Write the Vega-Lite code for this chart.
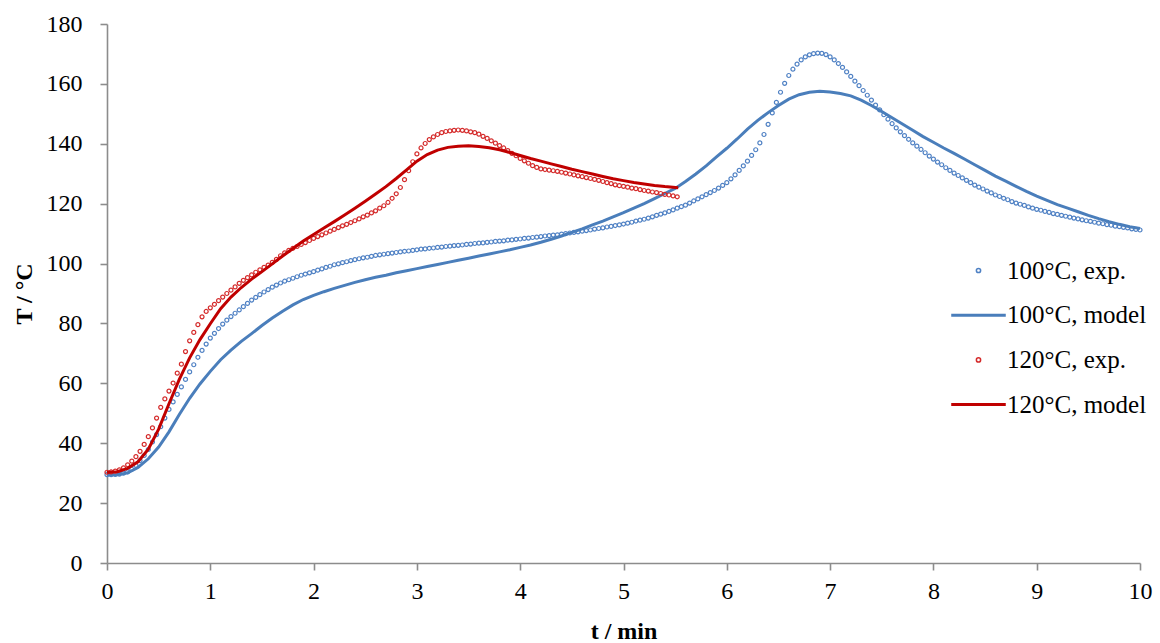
{
"$schema": "https://vega.github.io/schema/vega-lite/v6.json",
"width": 1033, "height": 539,
"autosize": {"type": "none"},
"padding": {"left": 107, "top": 24, "right": 20, "bottom": 80},
"background": "white",
"config": {"view": {"stroke": null},
 "axis": {"grid": false, "domainColor": "#8c8c8c", "domainWidth": 1.6, "tickColor": "#8c8c8c", "tickWidth": 1.6, "tickSize": 7,
  "labelFont": "Liberation Serif", "labelFontSize": 24, "labelColor": "black",
  "titleFont": "Liberation Serif", "titleFontSize": 24, "titleFontWeight": "bold", "titleColor": "black",
  "labelFlush": false, "labelOverlap": false, "labelBound": false},
 "legend": {"orient": "none", "legendX": 859, "legendY": 234,
  "labelFont": "Liberation Serif", "labelFontSize": 25, "labelColor": "black", "labelLimit": 0, "labelOffset": 16,
  "rowPadding": 18.7, "padding": 0, "symbolSize": 18, "symbolStrokeWidth": 1.5}},
"datasets": {
"b_exp": [
{"t":0,"T":29.5},{"t":0.04,"T":29.5},{"t":0.08,"T":29.6},{"t":0.12,"T":29.7},{"t":0.16,"T":30.0},{"t":0.2,"T":30.4},{"t":0.24,"T":31.3},{"t":0.28,"T":32.6},{"t":0.32,"T":34.2},{"t":0.36,"T":35.9},
{"t":0.4,"T":37.9},{"t":0.44,"T":40.4},{"t":0.48,"T":42.9},{"t":0.52,"T":45.5},{"t":0.56,"T":48.4},{"t":0.6,"T":51.3},{"t":0.64,"T":53.8},{"t":0.68,"T":56.3},{"t":0.72,"T":58.8},{"t":0.76,"T":61.3},
{"t":0.8,"T":63.8},{"t":0.84,"T":66.2},{"t":0.88,"T":68.7},{"t":0.92,"T":71.0},{"t":0.96,"T":73.1},{"t":1.0,"T":75.1},{"t":1.04,"T":76.7},{"t":1.08,"T":78.3},{"t":1.12,"T":79.8},{"t":1.16,"T":81.1},
{"t":1.2,"T":82.3},{"t":1.24,"T":83.4},{"t":1.28,"T":84.5},{"t":1.32,"T":85.6},{"t":1.36,"T":86.7},{"t":1.4,"T":87.8},{"t":1.44,"T":88.7},{"t":1.48,"T":89.6},{"t":1.52,"T":90.5},{"t":1.56,"T":91.3},
{"t":1.6,"T":92.1},{"t":1.64,"T":92.8},{"t":1.68,"T":93.5},{"t":1.72,"T":94.1},{"t":1.76,"T":94.6},{"t":1.8,"T":95.1},{"t":1.84,"T":95.6},{"t":1.88,"T":96.1},{"t":1.92,"T":96.5},{"t":1.96,"T":96.9},
{"t":2.0,"T":97.3},{"t":2.04,"T":97.8},{"t":2.08,"T":98.2},{"t":2.12,"T":98.7},{"t":2.16,"T":99.1},{"t":2.2,"T":99.6},{"t":2.24,"T":99.9},{"t":2.28,"T":100.3},{"t":2.32,"T":100.6},{"t":2.36,"T":101.0},
{"t":2.4,"T":101.3},{"t":2.44,"T":101.6},{"t":2.48,"T":101.9},{"t":2.52,"T":102.1},{"t":2.56,"T":102.4},{"t":2.6,"T":102.7},{"t":2.64,"T":102.9},{"t":2.68,"T":103.1},{"t":2.72,"T":103.3},{"t":2.76,"T":103.5},
{"t":2.8,"T":103.7},{"t":2.84,"T":103.9},{"t":2.88,"T":104.1},{"t":2.92,"T":104.2},{"t":2.96,"T":104.4},{"t":3.0,"T":104.6},{"t":3.04,"T":104.8},{"t":3.08,"T":104.9},{"t":3.12,"T":105.1},{"t":3.16,"T":105.2},
{"t":3.2,"T":105.4},{"t":3.24,"T":105.5},{"t":3.28,"T":105.7},{"t":3.32,"T":105.8},{"t":3.36,"T":106.0},{"t":3.4,"T":106.1},{"t":3.44,"T":106.2},{"t":3.48,"T":106.4},{"t":3.52,"T":106.5},{"t":3.56,"T":106.7},
{"t":3.6,"T":106.8},{"t":3.64,"T":106.9},{"t":3.68,"T":107.1},{"t":3.72,"T":107.2},{"t":3.76,"T":107.4},{"t":3.8,"T":107.5},{"t":3.84,"T":107.6},{"t":3.88,"T":107.8},{"t":3.92,"T":107.9},{"t":3.96,"T":108.1},
{"t":4.0,"T":108.2},{"t":4.04,"T":108.4},{"t":4.08,"T":108.5},{"t":4.12,"T":108.7},{"t":4.16,"T":108.8},{"t":4.2,"T":109.0},{"t":4.24,"T":109.2},{"t":4.28,"T":109.3},{"t":4.32,"T":109.5},{"t":4.36,"T":109.6},
{"t":4.4,"T":109.8},{"t":4.44,"T":110.0},{"t":4.48,"T":110.2},{"t":4.52,"T":110.4},{"t":4.56,"T":110.6},{"t":4.6,"T":110.8},{"t":4.64,"T":111.0},{"t":4.68,"T":111.2},{"t":4.72,"T":111.5},{"t":4.76,"T":111.7},
{"t":4.8,"T":111.9},{"t":4.84,"T":112.2},{"t":4.88,"T":112.4},{"t":4.92,"T":112.7},{"t":4.96,"T":112.9},{"t":5.0,"T":113.2},{"t":5.04,"T":113.5},{"t":5.08,"T":113.8},{"t":5.12,"T":114.2},{"t":5.16,"T":114.5},
{"t":5.2,"T":114.8},{"t":5.24,"T":115.2},{"t":5.28,"T":115.6},{"t":5.32,"T":116.1},{"t":5.36,"T":116.5},{"t":5.4,"T":116.9},{"t":5.44,"T":117.4},{"t":5.48,"T":117.9},{"t":5.52,"T":118.5},{"t":5.56,"T":119.0},
{"t":5.6,"T":119.5},{"t":5.64,"T":120.2},{"t":5.68,"T":120.9},{"t":5.72,"T":121.6},{"t":5.76,"T":122.3},{"t":5.8,"T":123.0},{"t":5.84,"T":123.7},{"t":5.88,"T":124.4},{"t":5.92,"T":125.2},{"t":5.96,"T":126.1},
{"t":6.0,"T":127.0},{"t":6.04,"T":128.3},{"t":6.08,"T":129.6},{"t":6.12,"T":131.1},{"t":6.16,"T":132.6},{"t":6.2,"T":134.2},{"t":6.24,"T":136.1},{"t":6.28,"T":138.0},{"t":6.32,"T":140.3},{"t":6.36,"T":143.1},
{"t":6.4,"T":146.5},{"t":6.44,"T":150.3},{"t":6.48,"T":153.8},{"t":6.52,"T":157.2},{"t":6.56,"T":160.2},{"t":6.6,"T":162.8},{"t":6.64,"T":164.9},{"t":6.68,"T":166.6},{"t":6.72,"T":168.0},{"t":6.76,"T":169.0},
{"t":6.8,"T":169.7},{"t":6.84,"T":170.1},{"t":6.88,"T":170.3},{"t":6.92,"T":170.2},{"t":6.96,"T":169.8},{"t":7.0,"T":169.0},{"t":7.04,"T":168.0},{"t":7.08,"T":166.8},{"t":7.12,"T":165.5},{"t":7.16,"T":164.0},
{"t":7.2,"T":162.5},{"t":7.24,"T":160.9},{"t":7.28,"T":159.4},{"t":7.32,"T":157.8},{"t":7.36,"T":156.2},{"t":7.4,"T":154.6},{"t":7.44,"T":152.9},{"t":7.48,"T":151.3},{"t":7.52,"T":149.7},{"t":7.56,"T":148.2},
{"t":7.6,"T":146.7},{"t":7.64,"T":145.3},{"t":7.68,"T":144.0},{"t":7.72,"T":142.7},{"t":7.76,"T":141.5},{"t":7.8,"T":140.3},{"t":7.84,"T":139.2},{"t":7.88,"T":138.1},{"t":7.92,"T":137.0},{"t":7.96,"T":135.9},
{"t":8.0,"T":134.9},{"t":8.04,"T":133.9},{"t":8.08,"T":133.0},{"t":8.12,"T":132.0},{"t":8.16,"T":131.1},{"t":8.2,"T":130.2},{"t":8.24,"T":129.4},{"t":8.28,"T":128.6},{"t":8.32,"T":127.8},{"t":8.36,"T":127.0},
{"t":8.4,"T":126.2},{"t":8.44,"T":125.5},{"t":8.48,"T":124.9},{"t":8.52,"T":124.2},{"t":8.56,"T":123.6},{"t":8.6,"T":122.9},{"t":8.64,"T":122.4},{"t":8.68,"T":121.8},{"t":8.72,"T":121.3},{"t":8.76,"T":120.7},
{"t":8.8,"T":120.2},{"t":8.84,"T":119.8},{"t":8.88,"T":119.4},{"t":8.92,"T":118.9},{"t":8.96,"T":118.5},{"t":9.0,"T":118.1},{"t":9.04,"T":117.8},{"t":9.08,"T":117.4},{"t":9.12,"T":117.1},{"t":9.16,"T":116.7},
{"t":9.2,"T":116.4},{"t":9.24,"T":116.1},{"t":9.28,"T":115.8},{"t":9.32,"T":115.5},{"t":9.36,"T":115.2},{"t":9.4,"T":114.9},{"t":9.44,"T":114.6},{"t":9.48,"T":114.3},{"t":9.52,"T":114.1},{"t":9.56,"T":113.8},
{"t":9.6,"T":113.5},{"t":9.64,"T":113.3},{"t":9.68,"T":113.0},{"t":9.72,"T":112.8},{"t":9.76,"T":112.5},{"t":9.8,"T":112.3},{"t":9.84,"T":112.1},{"t":9.88,"T":111.9},{"t":9.92,"T":111.6},{"t":9.96,"T":111.4},
{"t":10.0,"T":111.2}
],
"b_mod": [
{"t":0,"T":29.4},{"t":0.1,"T":29.5},{"t":0.2,"T":30.1},{"t":0.3,"T":31.9},{"t":0.4,"T":34.8},{"t":0.5,"T":38.7},{"t":0.6,"T":43.8},{"t":0.7,"T":49.6},{"t":0.8,"T":55.0},{"t":0.9,"T":59.8},
{"t":1.0,"T":64.0},{"t":1.1,"T":67.9},{"t":1.2,"T":71.1},{"t":1.3,"T":74.0},{"t":1.4,"T":76.6},{"t":1.5,"T":79.3},{"t":1.6,"T":81.8},{"t":1.7,"T":84.1},{"t":1.8,"T":86.2},{"t":1.9,"T":88.0},
{"t":2.0,"T":89.4},{"t":2.1,"T":90.6},{"t":2.2,"T":91.7},{"t":2.3,"T":92.7},{"t":2.4,"T":93.7},{"t":2.5,"T":94.6},{"t":2.6,"T":95.4},{"t":2.7,"T":96.1},{"t":2.8,"T":96.9},{"t":2.9,"T":97.6},
{"t":3.0,"T":98.3},{"t":3.1,"T":99.0},{"t":3.2,"T":99.7},{"t":3.3,"T":100.4},{"t":3.4,"T":101.1},{"t":3.5,"T":101.8},{"t":3.6,"T":102.5},{"t":3.7,"T":103.2},{"t":3.8,"T":103.9},{"t":3.9,"T":104.6},
{"t":4.0,"T":105.4},{"t":4.1,"T":106.2},{"t":4.2,"T":107.1},{"t":4.3,"T":108.1},{"t":4.4,"T":109.2},{"t":4.5,"T":110.4},{"t":4.6,"T":111.6},{"t":4.7,"T":112.9},{"t":4.8,"T":114.2},{"t":4.9,"T":115.6},
{"t":5.0,"T":117.0},{"t":5.1,"T":118.5},{"t":5.2,"T":120.0},{"t":5.3,"T":121.7},{"t":5.4,"T":123.4},{"t":5.5,"T":125.1},{"t":5.6,"T":127.4},{"t":5.7,"T":129.9},{"t":5.8,"T":132.6},{"t":5.9,"T":135.6},
{"t":6.0,"T":138.5},{"t":6.1,"T":141.6},{"t":6.2,"T":144.9},{"t":6.3,"T":147.8},{"t":6.4,"T":150.4},{"t":6.5,"T":152.8},{"t":6.6,"T":154.9},{"t":6.7,"T":156.4},{"t":6.8,"T":157.2},{"t":6.9,"T":157.5},
{"t":7.0,"T":157.3},{"t":7.1,"T":156.8},{"t":7.2,"T":156.0},{"t":7.3,"T":154.6},{"t":7.4,"T":152.8},{"t":7.5,"T":150.8},{"t":7.6,"T":148.7},{"t":7.7,"T":146.6},{"t":7.8,"T":144.5},{"t":7.9,"T":142.4},
{"t":8.0,"T":140.5},{"t":8.1,"T":138.6},{"t":8.2,"T":136.8},{"t":8.3,"T":134.9},{"t":8.4,"T":133.0},{"t":8.5,"T":131.1},{"t":8.6,"T":129.2},{"t":8.7,"T":127.5},{"t":8.8,"T":125.8},{"t":8.9,"T":124.1},
{"t":9.0,"T":122.5},{"t":9.1,"T":121.1},{"t":9.2,"T":119.7},{"t":9.3,"T":118.5},{"t":9.4,"T":117.3},{"t":9.5,"T":116.1},{"t":9.6,"T":115.0},{"t":9.7,"T":114.0},{"t":9.8,"T":113.1},{"t":9.9,"T":112.3},
{"t":10.0,"T":111.7}
],
"r_exp": [
{"t":0,"T":30.3},{"t":0.04,"T":30.4},{"t":0.08,"T":30.7},{"t":0.12,"T":31.1},{"t":0.16,"T":31.8},{"t":0.2,"T":32.8},{"t":0.24,"T":34.0},{"t":0.28,"T":35.5},{"t":0.32,"T":37.3},{"t":0.36,"T":39.6},
{"t":0.4,"T":42.2},{"t":0.44,"T":45.1},{"t":0.48,"T":48.4},{"t":0.52,"T":52.0},{"t":0.56,"T":54.8},{"t":0.6,"T":57.4},{"t":0.64,"T":60.1},{"t":0.68,"T":63.4},{"t":0.72,"T":66.4},{"t":0.76,"T":70.6},
{"t":0.8,"T":74.2},{"t":0.84,"T":77.0},{"t":0.88,"T":79.6},{"t":0.92,"T":82.2},{"t":0.96,"T":84.0},{"t":1.0,"T":85.2},{"t":1.04,"T":86.4},{"t":1.08,"T":87.6},{"t":1.12,"T":88.8},{"t":1.16,"T":90.0},
{"t":1.2,"T":91.1},{"t":1.24,"T":92.2},{"t":1.28,"T":93.4},{"t":1.32,"T":94.4},{"t":1.36,"T":95.3},{"t":1.4,"T":96.2},{"t":1.44,"T":97.1},{"t":1.48,"T":97.9},{"t":1.52,"T":98.7},{"t":1.56,"T":99.5},
{"t":1.6,"T":100.4},{"t":1.64,"T":101.4},{"t":1.68,"T":102.6},{"t":1.72,"T":103.6},{"t":1.76,"T":104.4},{"t":1.8,"T":105.1},{"t":1.84,"T":105.7},{"t":1.88,"T":106.4},{"t":1.92,"T":107.0},{"t":1.96,"T":107.7},
{"t":2.0,"T":108.4},{"t":2.04,"T":109.0},{"t":2.08,"T":109.6},{"t":2.12,"T":110.2},{"t":2.16,"T":110.8},{"t":2.2,"T":111.4},{"t":2.24,"T":112.0},{"t":2.28,"T":112.6},{"t":2.32,"T":113.1},{"t":2.36,"T":113.7},
{"t":2.4,"T":114.3},{"t":2.44,"T":114.9},{"t":2.48,"T":115.6},{"t":2.52,"T":116.2},{"t":2.56,"T":116.9},{"t":2.6,"T":117.6},{"t":2.64,"T":118.5},{"t":2.68,"T":119.3},{"t":2.72,"T":120.4},{"t":2.76,"T":121.8},
{"t":2.8,"T":123.3},{"t":2.84,"T":125.4},{"t":2.88,"T":128.0},{"t":2.92,"T":131.0},{"t":2.96,"T":134.0},{"t":3.0,"T":136.6},{"t":3.04,"T":138.6},{"t":3.08,"T":140.1},{"t":3.12,"T":141.4},{"t":3.16,"T":142.3},
{"t":3.2,"T":143.1},{"t":3.24,"T":143.7},{"t":3.28,"T":144.1},{"t":3.32,"T":144.3},{"t":3.36,"T":144.5},{"t":3.4,"T":144.6},{"t":3.44,"T":144.5},{"t":3.48,"T":144.3},{"t":3.52,"T":144.0},{"t":3.56,"T":143.7},
{"t":3.6,"T":143.2},{"t":3.64,"T":142.5},{"t":3.68,"T":141.8},{"t":3.72,"T":141.0},{"t":3.76,"T":140.2},{"t":3.8,"T":139.4},{"t":3.84,"T":138.6},{"t":3.88,"T":137.7},{"t":3.92,"T":136.8},{"t":3.96,"T":136.0},
{"t":4.0,"T":135.1},{"t":4.04,"T":134.3},{"t":4.08,"T":133.5},{"t":4.12,"T":132.7},{"t":4.16,"T":132.1},{"t":4.2,"T":131.6},{"t":4.24,"T":131.4},{"t":4.28,"T":131.2},{"t":4.32,"T":131.0},{"t":4.36,"T":130.8},
{"t":4.4,"T":130.5},{"t":4.44,"T":130.2},{"t":4.48,"T":129.9},{"t":4.52,"T":129.6},{"t":4.56,"T":129.3},{"t":4.6,"T":129.0},{"t":4.64,"T":128.7},{"t":4.68,"T":128.4},{"t":4.72,"T":128.1},{"t":4.76,"T":127.8},
{"t":4.8,"T":127.4},{"t":4.84,"T":127.0},{"t":4.88,"T":126.7},{"t":4.92,"T":126.3},{"t":4.96,"T":126.0},{"t":5.0,"T":125.8},{"t":5.04,"T":125.5},{"t":5.08,"T":125.2},{"t":5.12,"T":125.0},{"t":5.16,"T":124.7},
{"t":5.2,"T":124.4},{"t":5.24,"T":124.2},{"t":5.28,"T":123.9},{"t":5.32,"T":123.7},{"t":5.36,"T":123.4},{"t":5.4,"T":123.1},{"t":5.44,"T":122.9},{"t":5.48,"T":122.6},{"t":5.52,"T":122.3}
],
"r_mod": [
{"t":0,"T":30.3},{"t":0.1,"T":30.5},{"t":0.2,"T":31.6},{"t":0.3,"T":33.8},{"t":0.4,"T":38.0},{"t":0.5,"T":44.7},{"t":0.6,"T":53.2},{"t":0.7,"T":61.3},{"t":0.8,"T":68.5},{"t":0.9,"T":74.6},
{"t":1.0,"T":79.9},{"t":1.1,"T":84.9},{"t":1.2,"T":88.8},{"t":1.3,"T":92.0},{"t":1.4,"T":94.8},{"t":1.5,"T":97.3},{"t":1.6,"T":99.9},{"t":1.7,"T":102.5},{"t":1.8,"T":105.0},{"t":1.9,"T":107.5},
{"t":2.0,"T":109.7},{"t":2.1,"T":111.9},{"t":2.2,"T":114.0},{"t":2.3,"T":116.2},{"t":2.4,"T":118.5},{"t":2.5,"T":120.8},{"t":2.6,"T":123.2},{"t":2.7,"T":125.7},{"t":2.8,"T":128.4},{"t":2.9,"T":131.3},
{"t":3.0,"T":134.2},{"t":3.1,"T":136.4},{"t":3.2,"T":137.9},{"t":3.3,"T":138.8},{"t":3.4,"T":139.2},{"t":3.5,"T":139.3},{"t":3.6,"T":139.1},{"t":3.7,"T":138.7},{"t":3.8,"T":138.0},{"t":3.9,"T":137.1},
{"t":4.0,"T":136.1},{"t":4.1,"T":135.1},{"t":4.2,"T":134.2},{"t":4.3,"T":133.3},{"t":4.4,"T":132.4},{"t":4.5,"T":131.5},{"t":4.6,"T":130.7},{"t":4.7,"T":129.9},{"t":4.8,"T":129.1},{"t":4.9,"T":128.3},
{"t":5.0,"T":127.7},{"t":5.1,"T":127.1},{"t":5.2,"T":126.6},{"t":5.3,"T":126.1},{"t":5.4,"T":125.7},{"t":5.53,"T":125.3}
]
},
"encoding": {
 "x": {"field": "t", "type": "quantitative", "title": "t / min",
  "scale": {"domain": [0, 10], "nice": false},
  "axis": {"values": [0,1,2,3,4,5,6,7,8,9,10], "labelPadding": 9, "titleY": 68, "titleBaseline": "middle"}},
 "y": {"field": "T", "type": "quantitative", "title": "T / °C",
  "scale": {"domain": [0, 180], "nice": false},
  "axis": {"values": [0,20,40,60,80,100,120,140,160,180], "labelPadding": 18, "titleX": -83, "titleBaseline": "middle"}}
},
"layer": [
 {"data": {"name": "b_exp"},
  "mark": {"type": "point", "filled": false, "size": 16, "strokeWidth": 1.2, "opacity": 1},
  "encoding": {
   "color": {"datum": "100°C, exp.",
    "scale": {"domain": ["100°C, exp.", "100°C, model", "120°C, exp.", "120°C, model"], "range": ["#4F81C4", "#4A7EBB", "#D42A2A", "#C00000"]},
    "legend": {"title": null, "symbolStrokeWidth": 1.5}},
   "shape": {"datum": "100°C, exp.",
    "scale": {"domain": ["100°C, exp.", "100°C, model", "120°C, exp.", "120°C, model"], "range": ["circle", "M-12.5,-0.354H12.5V0.354H-12.5Z", "circle", "M-12.5,-0.354H12.5V0.354H-12.5Z"]},
    "legend": {"title": null, "symbolStrokeWidth": 1.5}}}},
 {"data": {"name": "b_mod"},
  "mark": {"type": "line", "strokeWidth": 3},
  "encoding": {"color": {"datum": "100°C, model"}}},
 {"data": {"name": "r_exp"},
  "mark": {"type": "point", "filled": false, "size": 16, "strokeWidth": 1.2, "opacity": 1},
  "encoding": {"color": {"datum": "120°C, exp."}, "shape": {"datum": "120°C, exp."}}},
 {"data": {"name": "r_mod"},
  "mark": {"type": "line", "strokeWidth": 3},
  "encoding": {"color": {"datum": "120°C, model"}}}
]
}
